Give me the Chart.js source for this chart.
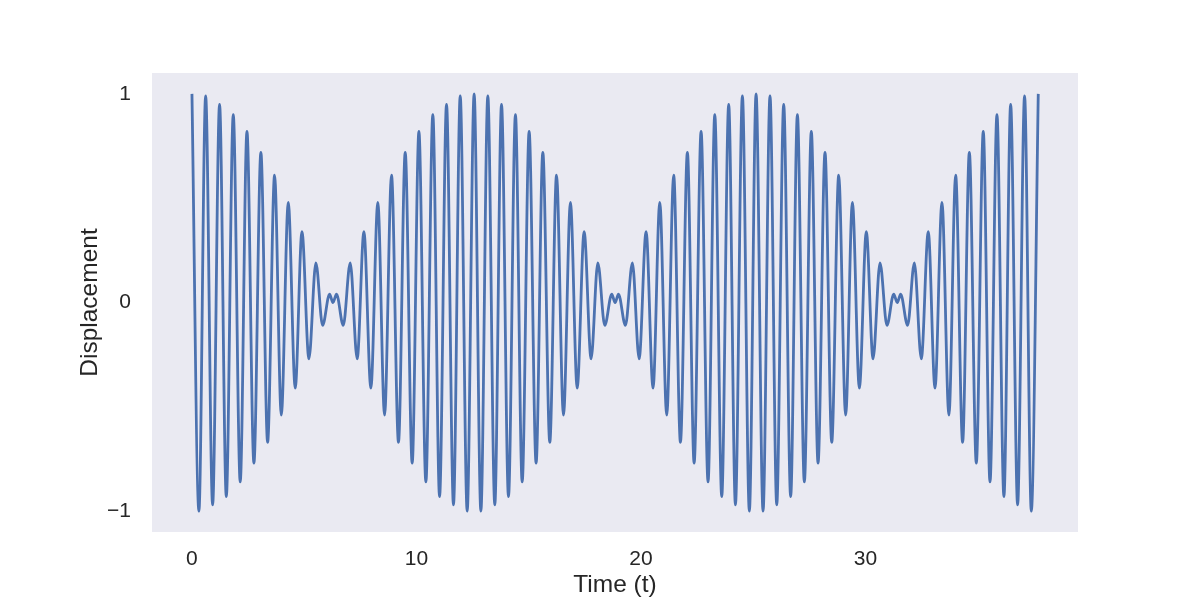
<!DOCTYPE html>
<html>
<head>
<meta charset="utf-8">
<script src="https://cdn.jsdelivr.net/npm/chart.js@4/dist/chart.umd.min.js"></script>
<style>
  body { margin: 0; background: #ffffff; }
</style>
</head>
<body>
<canvas id="chart" width="1200" height="600"></canvas>
<script>
// peaks and troughs (time, displacement)
const times = [
  0.00, 0.31, 0.61, 0.92, 1.23, 1.53, 1.84, 2.15, 2.45, 2.76, 3.07, 3.37, 3.68, 3.98, 4.29, 4.60, 4.90, 5.21, 5.52, 5.82, 6.13,
  6.28,
  6.44, 6.74, 7.05, 7.36, 7.66, 7.97, 8.28, 8.58, 8.89, 9.20, 9.50, 9.81, 10.11, 10.42, 10.73, 11.03, 11.34, 11.65, 11.95, 12.26,
  12.57, 12.87, 13.18, 13.49, 13.79, 14.10, 14.41, 14.71, 15.02, 15.33, 15.63, 15.94, 16.24, 16.55, 16.86, 17.16, 17.47, 17.78, 18.08, 18.39, 18.70,
  18.85,
  19.00, 19.31, 19.62, 19.92, 20.23, 20.54, 20.84, 21.15, 21.46, 21.76, 22.07, 22.37, 22.68, 22.99, 23.29, 23.60, 23.91, 24.21, 24.52, 24.83,
  25.13, 25.44, 25.75, 26.05, 26.36, 26.67, 26.97, 27.28, 27.59, 27.89, 28.20, 28.50, 28.81, 29.12, 29.42, 29.73, 30.04, 30.34, 30.65, 30.96, 31.26,
  31.42,
  31.57, 31.88, 32.18, 32.49, 32.80, 33.10, 33.41, 33.72, 34.02, 34.33, 34.63, 34.94, 35.25, 35.55, 35.86, 36.17, 36.47, 36.78, 37.09, 37.39,
  37.70
];
const displacement = [
  1.00, -1.00, 0.99, -0.97, 0.95, -0.93, 0.90, -0.86, 0.82, -0.77, 0.72, -0.67, 0.61, -0.54, 0.48, -0.41, 0.34, -0.27, 0.19, -0.11, 0.04,
  0.00,
  0.04, -0.11, 0.19, -0.27, 0.34, -0.41, 0.48, -0.54, 0.61, -0.67, 0.72, -0.77, 0.82, -0.86, 0.90, -0.93, 0.95, -0.97, 0.99, -1.00,
  1.00, -1.00, 0.99, -0.97, 0.95, -0.93, 0.90, -0.86, 0.82, -0.77, 0.72, -0.67, 0.61, -0.54, 0.48, -0.41, 0.34, -0.27, 0.19, -0.11, 0.04,
  0.00,
  0.04, -0.11, 0.19, -0.27, 0.34, -0.41, 0.48, -0.54, 0.61, -0.67, 0.72, -0.77, 0.82, -0.86, 0.90, -0.93, 0.95, -0.97, 0.99, -1.00,
  1.00, -1.00, 0.99, -0.97, 0.95, -0.93, 0.90, -0.86, 0.82, -0.77, 0.72, -0.67, 0.61, -0.54, 0.48, -0.41, 0.34, -0.27, 0.19, -0.11, 0.04,
  0.00,
  0.04, -0.11, 0.19, -0.27, 0.34, -0.41, 0.48, -0.54, 0.61, -0.67, 0.72, -0.77, 0.82, -0.86, 0.90, -0.93, 0.95, -0.97, 0.99, -1.00,
  1.00
];
const xTicks = [0, 10, 20, 30];
const yTicks = [-1, 0, 1];

const textColor = '#262626';
const fontFamily = '"Liberation Sans", Arial, sans-serif';

// paint the grey plot panel behind the line
const panelBg = {
    id: 'panelBg',
    beforeDraw(chart) {
        const { ctx, chartArea } = chart;
        ctx.save();
        ctx.fillStyle = '#EAEAF2';
        ctx.fillRect(chartArea.left, chartArea.top, chartArea.right - chartArea.left, chartArea.bottom - chartArea.top);
        ctx.restore();
    }
};

new Chart(document.getElementById('chart'), {
    type: 'line',
    data: {
        datasets: [{
            data: times.map((t, i) => ({ x: t, y: displacement[i] })),
            borderColor: '#4C72B0',
            borderWidth: 2.8,
            pointRadius: 0,
            cubicInterpolationMode: 'monotone',
            fill: false
        }]
    },
    options: {
        responsive: false,
        animation: false,
        layout: { padding: { left: 0, top: 73, right: 122, bottom: 0 } },
        plugins: {
            legend: { display: false },
            tooltip: { enabled: false }
        },
        scales: {
            x: {
                type: 'linear',
                min: -1.78,
                max: 39.47,
                afterBuildTicks: (axis) => { axis.ticks = xTicks.map(v => ({ value: v })); },
                afterFit: (axis) => { axis.height = 68; },
                grid: { display: false, drawTicks: false },
                border: { display: false },
                ticks: {
                    color: textColor,
                    font: { family: fontFamily, size: 21 },
                    padding: 15,
                    maxRotation: 0
                },
                title: {
                    display: true,
                    text: 'Time (t)',
                    color: textColor,
                    font: { family: fontFamily, size: 24.5 },
                    padding: { top: 0, bottom: 0 }
                }
            },
            y: {
                min: -1.1,
                max: 1.1,
                afterBuildTicks: (axis) => { axis.ticks = yTicks.map(v => ({ value: v })); },
                afterFit: (axis) => { axis.width = 152; },
                grid: { display: false, drawTicks: false },
                border: { display: false },
                ticks: {
                    color: textColor,
                    font: { family: fontFamily, size: 21 },
                    padding: 21,
                    callback: (v) => String(v).replace('-', '\u2212')
                },
                title: {
                    display: true,
                    text: 'Displacement',
                    color: textColor,
                    font: { family: fontFamily, size: 24.5 },
                    padding: { top: 76, bottom: 0 }
                }
            }
        }
    },
    plugins: [panelBg]
});
</script>
</body>
</html>
